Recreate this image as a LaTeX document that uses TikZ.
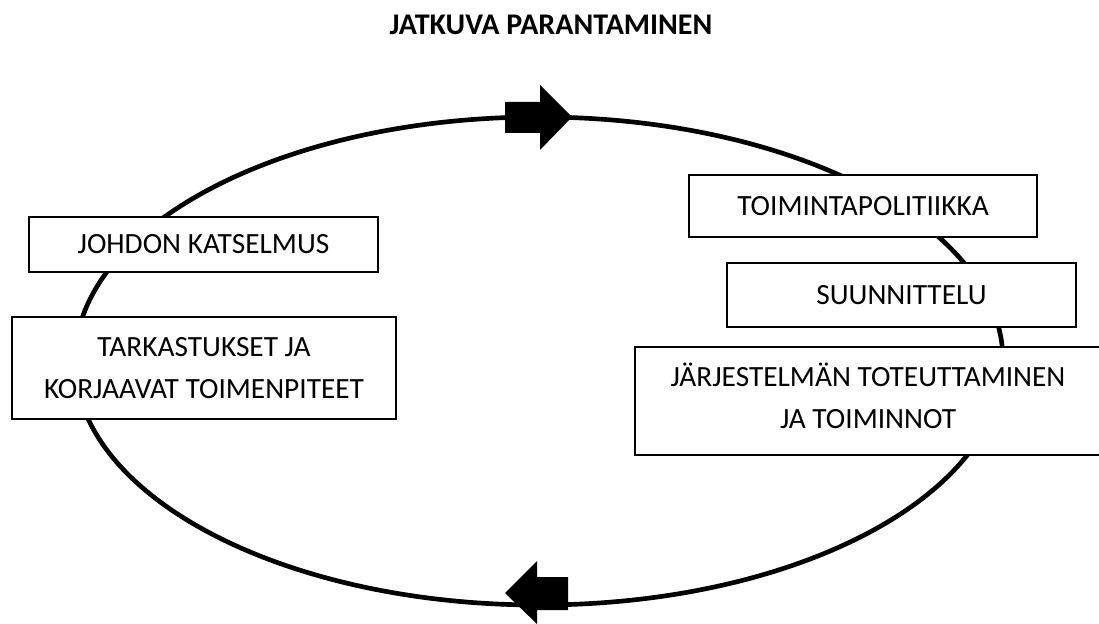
\documentclass[tikz,border=0pt]{standalone}
\usepackage{fontspec}
\setmainfont{Carlito}

\def\boxfont{\fontsize{22}{31.5}\selectfont}

\begin{document}
\begin{tikzpicture}[x=0.75pt,y=-0.75pt]
    \tikzstyle{cyclebox}=[draw=black,line width=0.9pt,fill=white,align=center,inner sep=0pt,font=\boxfont]
    \tikzstyle{cycle}=[line width=3.5pt]
    \tikzstyle{arrowfill}=[fill=black]

    \useasboundingbox (0,0) rectangle (1099,624);

    \node[font=\bfseries\fontsize{22.5}{26}\selectfont] (title) at (551,25) {JATKUVA PARANTAMINEN};

    \draw[cycle] (539,361) ellipse [x radius=348pt, y radius=183pt];

    % arrows on the circle
    \fill[arrowfill] (505,102) -- (540,102) -- (540,85) -- (572,117) -- (540,150) -- (540,133) -- (505,133) -- cycle;
    \fill[arrowfill] (568,577) -- (537,577) -- (537,561) -- (505,593) -- (537,624) -- (537,610) -- (568,610) -- cycle;

    \node[cyclebox,minimum width=261pt,minimum height=46.5pt] (policy) at (863,206) {TOIMINTAPOLITIIKKA};
    \node[cyclebox,minimum width=261.75pt,minimum height=48pt] (plan) at (901.5,295) {SUUNNITTELU};
    \node[cyclebox,minimum width=349.5pt,minimum height=81pt] (impl) at (868,401) {J\"ARJESTELM\"AN TOTEUTTAMINEN\\JA TOIMINNOT\\[-24pt]};
    \node[cyclebox,minimum width=261.75pt,minimum height=41.25pt] (review) at (203.5,244.5) {JOHDON KATSELMUS};
    \node[cyclebox,minimum width=288pt,minimum height=76.5pt] (check) at (204,368) {TARKASTUKSET JA\\KORJAAVAT TOIMENPITEET};
\end{tikzpicture}
\end{document}
